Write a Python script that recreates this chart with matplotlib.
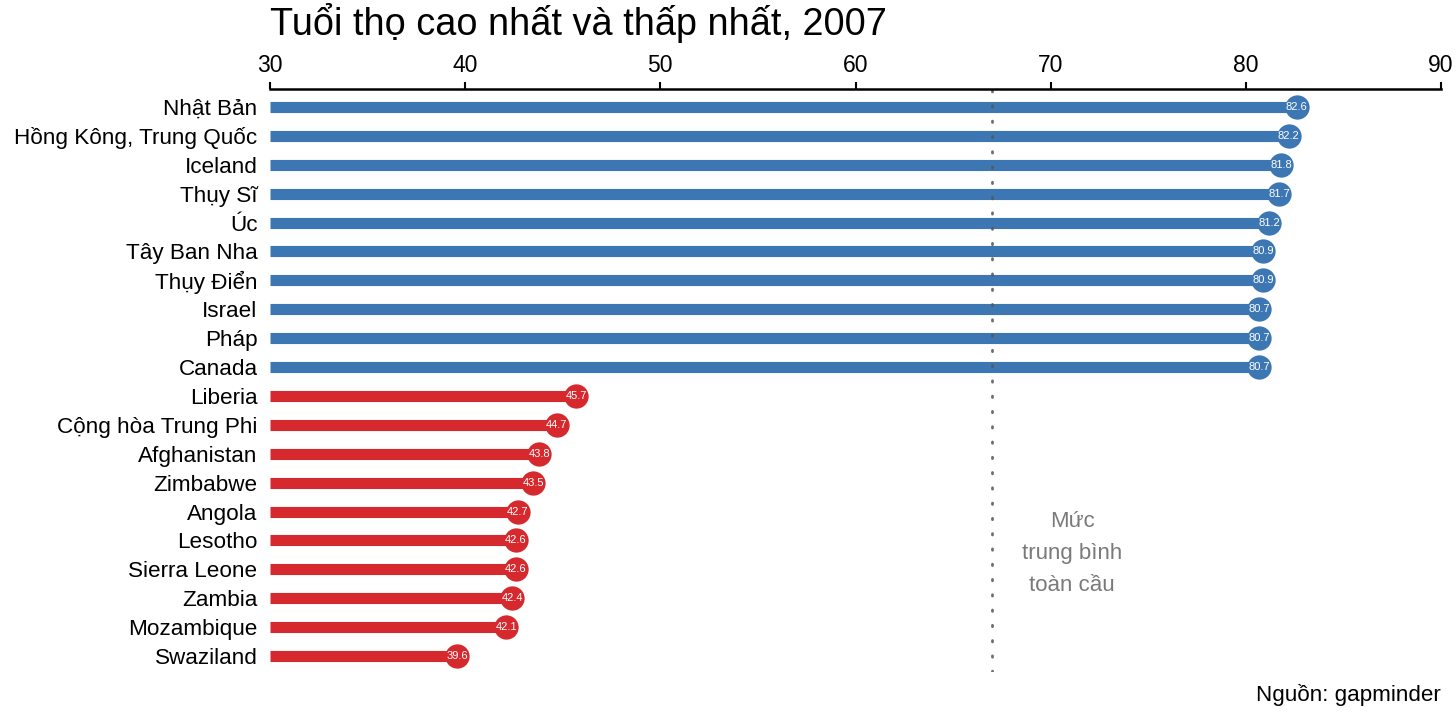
import matplotlib
matplotlib.use("Agg")
import matplotlib.pyplot as plt

plt.rcParams['font.family'] = ['Liberation Sans', 'DejaVu Sans']

countries = ["Nhật Bản", "Hồng Kông, Trung Quốc", "Iceland", "Thụy Sĩ", "Úc",
             "Tây Ban Nha", "Thụy Điển", "Israel", "Pháp", "Canada",
             "Liberia", "Cộng hòa Trung Phi", "Afghanistan", "Zimbabwe", "Angola",
             "Lesotho", "Sierra Leone", "Zambia", "Mozambique", "Swaziland"]
life_exp = [82.6, 82.2, 81.8, 81.7, 81.2, 80.9, 80.9, 80.7, 80.7, 80.7,
            45.7, 44.7, 43.8, 43.5, 42.7, 42.6, 42.6, 42.4, 42.1, 39.6]
group = ["high"] * 10 + ["low"] * 10
global_mean = 67.0
xticks = [30, 40, 50, 60, 70, 80, 90]

colors = {"high": "#3d77b3", "low": "#d5292e"}

fig = plt.figure(figsize=(14.56, 7.2), dpi=100)
ax = fig.add_axes([270/1456, 48/720, (1441-270)/1456, (672-89)/720])

xmin = 30
for i, (c, v, g) in enumerate(zip(countries, life_exp, group)):
    col = colors[g]
    ax.plot([xmin, v], [i, i], color=col, lw=8, solid_capstyle='butt', zorder=2)
    ax.plot([v], [i], 'o', color=col, markersize=17.5, markeredgewidth=0, zorder=3)
    ax.text(v, i, f"{v:.1f}", color="white", fontsize=8, ha="center", va="center", zorder=4)

ax.axvline(global_mean, color="#555555", lw=2, ls=(0, (0.5, 5)), dash_capstyle='round',
           alpha=0.85, zorder=2.5)
ax.text(global_mean + 4.1, 15.45, "Mức\ntrung bình\ntoàn cầu", color="#7a7a7a", fontsize=16,
        ha="center", va="center", linespacing=1.7)

ax.set_xlim(30, 90)
ax.set_ylim(19.554, -0.623)
ax.set_yticks(range(len(countries)))
ax.set_yticklabels(countries, fontsize=16.2)
ax.tick_params(axis='y', length=0, pad=9)
ax.xaxis.tick_top()
ax.set_xticks(xticks)
ax.set_xticklabels([str(t) for t in xticks], fontsize=16.5)
ax.tick_params(axis='x', direction='out', length=5, width=1.5, pad=4)
for s in ["left", "right", "bottom"]:
    ax.spines[s].set_visible(False)
ax.spines["top"].set_linewidth(1.8)

fig.text(270/1456, 1 - 23/720, "Tuổi thọ cao nhất và thấp nhất, 2007", fontsize=27.3,
         ha="left", va="center")
fig.text(1441/1456, 1 - 695/720, "Nguồn: gapminder", fontsize=16.1, ha="right", va="center")

fig.savefig("out.png", dpi=100, facecolor="white")
